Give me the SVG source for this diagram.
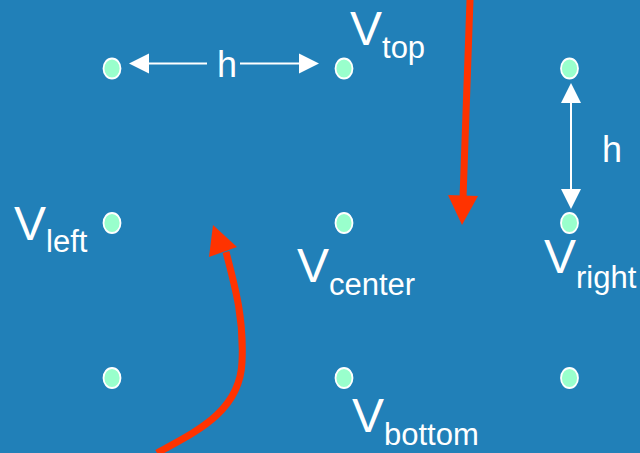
<svg xmlns="http://www.w3.org/2000/svg" width="640" height="453" viewBox="0 0 640 453">
<style>
.dot{fill:#99ffcc;stroke:#ffffff;stroke-width:1.8}
.wl{stroke:#ffffff;stroke-width:2;fill:none}
.wh{fill:#ffffff}
.red{stroke:#ff3300;stroke-width:7;fill:none}
.rh{fill:#ff3300}
text{font-family:"Liberation Sans",Arial,sans-serif;fill:#ffffff}
.big{font-size:48px}
.sub{font-size:31px}
.h{font-size:36px}
</style>
<rect width="640" height="453" fill="#2180b8"/>
<g id="nodes">
<g id="n-tl"><ellipse class="dot" cx="112" cy="68.5" rx="8.5" ry="10"/></g>
<g id="n-top"><ellipse class="dot" cx="344" cy="68.5" rx="8.5" ry="10"/><text class="big" x="350" y="45">V<tspan class="sub" dy="13">top</tspan></text></g>
<g id="n-tr"><ellipse class="dot" cx="569.5" cy="68.5" rx="8.5" ry="10"/></g>
<g id="n-left"><ellipse class="dot" cx="112" cy="223" rx="8.5" ry="10"/><text class="big" x="14" y="240">V<tspan class="sub" dy="12">left</tspan></text></g>
<g id="n-center"><ellipse class="dot" cx="344" cy="223" rx="8.5" ry="10"/><text class="big" x="297" y="282">V<tspan class="sub" dy="13">center</tspan></text></g>
<g id="n-right"><ellipse class="dot" cx="569.5" cy="223" rx="8.5" ry="10"/><text class="big" x="544" y="273">V<tspan class="sub" dy="15">right</tspan></text></g>
<g id="n-bl"><ellipse class="dot" cx="112" cy="378" rx="8.5" ry="10"/></g>
<g id="n-bottom"><ellipse class="dot" cx="344" cy="378" rx="8.5" ry="10"/><text class="big" x="352" y="432">V<tspan class="sub" dy="13">bottom</tspan></text></g>
<g id="n-br"><ellipse class="dot" cx="569.5" cy="378" rx="8.5" ry="10"/></g>
</g>
<g id="connectors">
<line class="wl" x1="148" y1="63.5" x2="207" y2="63.5"/>
<line class="wl" x1="240" y1="63.5" x2="300" y2="63.5"/>
<polygon class="wh" points="129,63.5 149,53.5 149,73.5"/>
<polygon class="wh" points="319,63.5 299,53.5 299,73.5"/>
<text class="h" x="217" y="77">h</text>
<line class="wl" x1="571" y1="102" x2="571" y2="190"/>
<polygon class="wh" points="571,83 561,103 581,103"/>
<polygon class="wh" points="571,209 561,189 581,189"/>
<text class="h" x="602" y="162">h</text>
<path class="red" d="M470,0 L463,198"/>
<polygon class="rh" points="462,225 448,195 478,196"/>
<path class="red" d="M157,453 C195,432 240,412 242,362 C244,320 236,290 226,252"/>
<polygon class="rh" points="213,225 209,257 237,247"/>
</g>
</svg>
